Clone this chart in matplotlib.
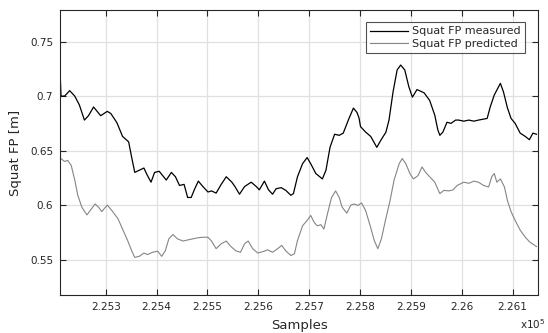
import numpy as np
import matplotlib
matplotlib.use("Agg")
import matplotlib.pyplot as plt

# --- data (sample index, squat foot position [m]) ---
measured_x = [225210, 225212, 225219, 225229, 225239, 225248, 225258, 225266, 225276, 225290,
              225303, 225310, 225322, 225333, 225345, 225350, 225357, 225366, 225375, 225381,
              225389, 225396, 225405, 225419, 225429, 225437, 225445, 225454, 225461, 225468,
              225475, 225482, 225491, 225501, 225508, 225517, 225527, 225537, 225548, 225554,
              225563, 225573, 225586, 225596, 225602, 225612, 225620, 225628, 225635, 225645,
              225654, 225664, 225669, 225677, 225687, 225696, 225703, 225713, 225726, 225733,
              225741, 225750, 225759, 225767, 225777, 225787, 225794, 225798, 225801, 225811,
              225821, 225833, 225841, 225851, 225857, 225865, 225873, 225880, 225888, 225896,
              225903, 225912, 225926, 225937, 225947, 225953, 225957, 225963, 225971, 225979,
              225988, 225994, 226004, 226014, 226024, 226033, 226050, 226056, 226064, 226076,
              226082, 226090, 226097, 226105, 226115, 226125, 226133, 226140, 226147]
measured_y = [0.724, 0.700, 0.700, 0.705, 0.700, 0.692, 0.678, 0.682, 0.690, 0.682,
              0.686, 0.684, 0.6755, 0.663, 0.658, 0.646, 0.630, 0.632, 0.634, 0.628,
              0.621, 0.630, 0.631, 0.623, 0.630, 0.626, 0.618, 0.619, 0.607, 0.607,
              0.615, 0.622, 0.617, 0.612, 0.613, 0.611, 0.619, 0.626, 0.621, 0.617,
              0.610, 0.617, 0.621, 0.617, 0.614, 0.622, 0.614, 0.610, 0.615, 0.616,
              0.6135, 0.609, 0.6105, 0.626, 0.638, 0.6436, 0.638, 0.629, 0.624, 0.632,
              0.653, 0.665, 0.664, 0.666, 0.678, 0.689, 0.685, 0.680, 0.672, 0.667,
              0.663, 0.653, 0.6595, 0.667, 0.678, 0.704, 0.724, 0.7285, 0.724, 0.7086,
              0.699, 0.706, 0.703, 0.696, 0.6825, 0.669, 0.664, 0.667, 0.676, 0.675,
              0.678, 0.678, 0.677, 0.678, 0.677, 0.678, 0.6795, 0.690, 0.701, 0.7117,
              0.704, 0.689, 0.6795, 0.675, 0.666, 0.663, 0.660, 0.666, 0.665]

predicted_x = [225210, 225211, 225219, 225225, 225232, 225239, 225245, 225253, 225263, 225271,
               225279, 225286, 225292, 225303, 225312, 225324, 225333, 225343, 225351, 225357,
               225366, 225375, 225382, 225392, 225402, 225410, 225417, 225424, 225432, 225441,
               225452, 225461, 225471, 225481, 225491, 225501, 225508, 225517, 225527, 225537,
               225546, 225556, 225565, 225573, 225580, 225589, 225599, 225612, 225618, 225628,
               225638, 225646, 225654, 225664, 225671, 225677, 225687, 225697, 225703, 225710,
               225716, 225723, 225729, 225736, 225744, 225752, 225759, 225765, 225774, 225782,
               225788, 225796, 225803, 225811, 225820, 225828, 225835, 225842, 225850, 225859,
               225867, 225877, 225883, 225890, 225898, 225905, 225914, 225922, 225929, 225937,
               225947, 225957, 225965, 225975, 225983, 225991, 226004, 226014, 226024, 226033,
               226043, 226053, 226059, 226064, 226069, 226076, 226084, 226090, 226097, 226105,
               226115, 226125, 226134, 226147]
predicted_y = [0.676, 0.643, 0.640, 0.641, 0.6365, 0.623, 0.609, 0.598, 0.591, 0.596,
               0.601, 0.598, 0.594, 0.600, 0.595, 0.5875, 0.578, 0.5675, 0.558, 0.552,
               0.553, 0.556, 0.5546, 0.5567, 0.5577, 0.553, 0.558, 0.569, 0.573, 0.569,
               0.567, 0.568, 0.569, 0.570, 0.5705, 0.5705, 0.567, 0.560, 0.5645, 0.567,
               0.562, 0.558, 0.5567, 0.5645, 0.567, 0.560, 0.556, 0.5577, 0.559, 0.5567,
               0.560, 0.563, 0.558, 0.5537, 0.5553, 0.5675, 0.581, 0.5865, 0.5905, 0.584,
               0.581, 0.582, 0.578, 0.592, 0.607, 0.613, 0.607, 0.598, 0.5926, 0.600,
               0.601, 0.5997, 0.602, 0.595, 0.581, 0.5675, 0.560, 0.569, 0.586, 0.604,
               0.623, 0.638, 0.6427, 0.638, 0.629, 0.624, 0.627, 0.635, 0.630, 0.626,
               0.621, 0.6105, 0.6135, 0.613, 0.614, 0.618, 0.621, 0.620, 0.622, 0.621,
               0.618, 0.6166, 0.626, 0.629, 0.621, 0.624, 0.6166, 0.604, 0.594, 0.586,
               0.577, 0.5705, 0.566, 0.562]

x_ticks = [225300, 225400, 225500, 225600, 225700, 225800, 225900, 226000, 226100]
x_tick_labels = ["2.253", "2.254", "2.255", "2.256", "2.257", "2.258", "2.259", "2.26", "2.261"]
y_ticks = [0.55, 0.60, 0.65, 0.70, 0.75]
y_tick_labels = ["0.55", "0.6", "0.65", "0.7", "0.75"]

plt.rcParams['font.family'] = ['DejaVu Sans']
text_col = '#262626'

fig = plt.figure(figsize=(5.48, 3.33), dpi=100)
ax = fig.add_axes([60 / 548, 1 - 295 / 333, 478 / 548, 285 / 333])

ax.plot(measured_x, measured_y, color='black', linewidth=0.9, label='Squat FP measured')
ax.plot(predicted_x, predicted_y, color='#858585', linewidth=0.8, label='Squat FP predicted')

ax.set_xlim(225210, 226150)
ax.set_ylim(0.5175, 0.779)
ax.set_xticks(x_ticks)
ax.set_xticklabels(x_tick_labels)
ax.set_yticks(y_ticks)
ax.set_yticklabels(y_tick_labels)

ax.grid(True, color='#e0e0e0', linewidth=0.9)
ax.set_axisbelow(True)
for s in ax.spines.values():
    s.set_color(text_col)
    s.set_linewidth(0.8)
ax.tick_params(direction='in', length=4, width=0.8, color=text_col, labelcolor=text_col,
               labelsize=7.5, top=True, right=True, pad=5)

ax.set_xlabel('Samples', fontsize=9.5, color=text_col, labelpad=5)
ax.set_ylabel('Squat FP [m]', fontsize=9.5, color=text_col, labelpad=6)

leg = ax.legend(loc='upper right', fontsize=8, frameon=True, fancybox=False,
                edgecolor=text_col, handlelength=3.4, handletextpad=0.35,
                borderpad=0.4, labelspacing=0.2, borderaxespad=0,
                bbox_to_anchor=(525 / 548, 1 - 22 / 333),
                bbox_transform=fig.transFigure)
leg.get_frame().set_linewidth(0.8)
for t in leg.get_texts():
    t.set_color(text_col)

fig.text(520 / 548, 1 - 331 / 333, 'x10$^5$', fontsize=7.5, color=text_col, ha='left', va='bottom')

fig.savefig('out.png', dpi=100)
